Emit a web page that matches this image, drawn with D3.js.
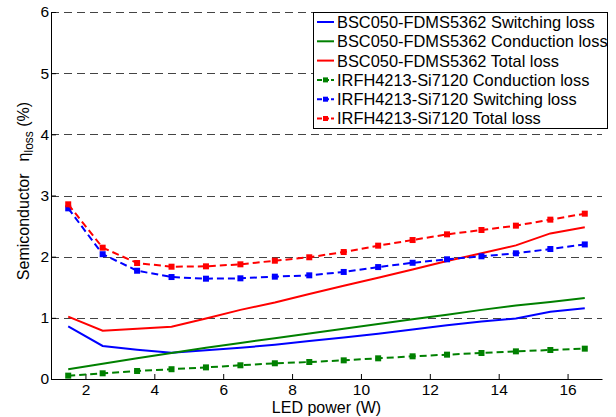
<!DOCTYPE html>
<html>
<head>
<meta charset="utf-8">
<script src="https://cdn.jsdelivr.net/npm/d3@7"></script>
<style>
  body { margin: 0; background: #fff; }
  svg text { font-family: "Liberation Sans", Arial, sans-serif; }
</style>
</head>
<body>
<div id="chart"></div>
<script>
var power = [1.5, 2.5, 3.5, 4.5, 5.5, 6.5, 7.5, 8.5, 9.5, 10.5, 11.5, 12.5, 13.5, 14.5, 15.5, 16.5];

var bscSwitching  = [0.86, 0.54, 0.48, 0.43, 0.47, 0.51, 0.56, 0.62, 0.68, 0.74, 0.81, 0.88, 0.94, 0.99, 1.10, 1.155];
var bscConduction = [0.16, 0.25, 0.34, 0.425, 0.51, 0.59, 0.665, 0.745, 0.82, 0.90, 0.975, 1.05, 1.13, 1.20, 1.26, 1.325];
var bscTotal      = [1.02, 0.79, 0.82, 0.855, 0.99, 1.13, 1.25, 1.39, 1.525, 1.655, 1.79, 1.93, 2.055, 2.185, 2.38, 2.48];
var irfConduction = [0.055, 0.093, 0.131, 0.16, 0.19, 0.224, 0.257, 0.278, 0.305, 0.338, 0.371, 0.398, 0.425, 0.452, 0.474, 0.496];
var irfSwitching  = [2.79, 2.04, 1.77, 1.667, 1.64, 1.646, 1.673, 1.695, 1.75, 1.83, 1.90, 1.957, 2.006, 2.055, 2.125, 2.20];
var irfTotal      = [2.856, 2.147, 1.896, 1.836, 1.842, 1.875, 1.934, 1.99, 2.076, 2.18, 2.272, 2.365, 2.436, 2.507, 2.605, 2.703];

var seriesNames = [
  "BSC050-FDMS5362 Switching loss",
  "BSC050-FDMS5362 Conduction loss",
  "BSC050-FDMS5362 Total loss",
  "IRFH4213-Si7120 Conduction loss",
  "IRFH4213-Si7120 Switching loss",
  "IRFH4213-Si7120 Total loss"
];
var xTicks = [2, 4, 6, 8, 10, 12, 14, 16];
var yTicks = [0, 1, 2, 3, 4, 5, 6];

var series = [
  {name: seriesNames[0], values: bscSwitching,  color: "#0000ff", dashed: false},
  {name: seriesNames[1], values: bscConduction, color: "#008000", dashed: false},
  {name: seriesNames[2], values: bscTotal,      color: "#ff0000", dashed: false},
  {name: seriesNames[3], values: irfConduction, color: "#008000", dashed: true},
  {name: seriesNames[4], values: irfSwitching,  color: "#0000ff", dashed: true},
  {name: seriesNames[5], values: irfTotal,      color: "#ff0000", dashed: true}
];

var W = 616, H = 417;
var margin = {top: 12, left: 51, right: 14, bottom: 38},
    width  = W - margin.left - margin.right,
    height = H - margin.top - margin.bottom;

var svg = d3.select("#chart").append("svg")
    .attr("width", W)
    .attr("height", H);

var g = svg.append("g").attr("transform", "translate(" + margin.left + "," + margin.top + ")");

var x = d3.scaleLinear().domain([1, 17]).range([0, width]),
    y = d3.scaleLinear().domain([0, 6]).range([height, 0]);

// dashed grid
g.append("g")
  .selectAll("line")
  .data(yTicks.filter(function(d) { return d > 0; }))
  .enter().append("line")
    .attr("x1", 0).attr("x2", width)
    .attr("y1", function(d) { return Math.round(y(d)) + 0.5; })
    .attr("y2", function(d) { return Math.round(y(d)) + 0.5; })
    .attr("stroke", "#444")
    .attr("stroke-dasharray", "8,5");

// axes, ticks inward
var xAxis = g.append("g")
  .attr("transform", "translate(0," + height + ")")
  .call(d3.axisBottom(x).tickValues(xTicks).tickFormat(d3.format("d"))
        .tickSize(-5).tickPadding(5).tickSizeOuter(0));
var yAxis = g.append("g")
  .call(d3.axisLeft(y).tickValues(yTicks).tickFormat(d3.format("d"))
        .tickSize(-5).tickPadding(2).tickSizeOuter(0));

[xAxis, yAxis].forEach(function(a) {
  a.attr("font-family", null);
  a.selectAll("text").attr("font-size", 15.5).attr("fill", "#000");
  a.selectAll("line").attr("stroke", "#000");
  a.select(".domain").attr("stroke", "#000");
});

var line = d3.line()
    .x(function(d, i) { return x(power[i]); })
    .y(function(d) { return y(d); });

series.forEach(function(s) {
  g.append("path")
    .datum(s.values)
    .attr("fill", "none")
    .attr("stroke", s.color)
    .attr("stroke-width", 2)
    .attr("stroke-dasharray", s.dashed ? "7,4" : null)
    .attr("d", line);
  if (s.dashed) {
    g.selectAll(null)
      .data(s.values)
      .enter().append("rect")
        .attr("x", function(d, i) { return x(power[i]) - 3; })
        .attr("y", function(d) { return y(d) - 3; })
        .attr("width", 6).attr("height", 6)
        .attr("fill", s.color);
  }
});

// axis labels
svg.append("text")
  .attr("x", margin.left + width / 2)
  .attr("y", 413)
  .attr("text-anchor", "middle")
  .attr("font-size", 16)
  .text("LED power (W)");

var yl = svg.append("text")
  .attr("transform", "translate(29,191) rotate(-90)")
  .attr("text-anchor", "middle")
  .attr("font-size", 16);
yl.append("tspan").text("Semiconductor");
yl.append("tspan").attr("dx", 12).text("\u03b7");
yl.append("tspan").attr("font-size", 12).attr("dy", 4).text("loss");
yl.append("tspan").attr("dy", -4).text(" (%)");

// legend
var legend = svg.append("g").attr("transform", "translate(313,12)");
legend.append("rect")
  .attr("x", 0.5).attr("y", 0.5)
  .attr("width", 294).attr("height", 116)
  .attr("fill", "#fff")
  .attr("stroke", "#000");

var rows = legend.selectAll("g.row")
  .data(series)
  .enter().append("g")
    .attr("class", "row")
    .attr("transform", function(d, i) { return "translate(0," + (10 + i * 19.3) + ")"; });

rows.append("line")
  .attr("x1", 4).attr("x2", 21)
  .attr("stroke", function(d) { return d.color; })
  .attr("stroke-width", 2)
  .attr("stroke-dasharray", function(d) { return d.dashed ? "5,2" : null; });
rows.filter(function(d) { return d.dashed; })
  .append("rect")
  .attr("x", 10).attr("y", -2.5).attr("width", 5).attr("height", 5)
  .attr("fill", function(d) { return d.color; });
rows.append("text")
  .attr("x", 24)
  .attr("dy", "0.36em")
  .attr("font-size", 16.4)
  .text(function(d) { return d.name; });
</script>
</body>
</html>
